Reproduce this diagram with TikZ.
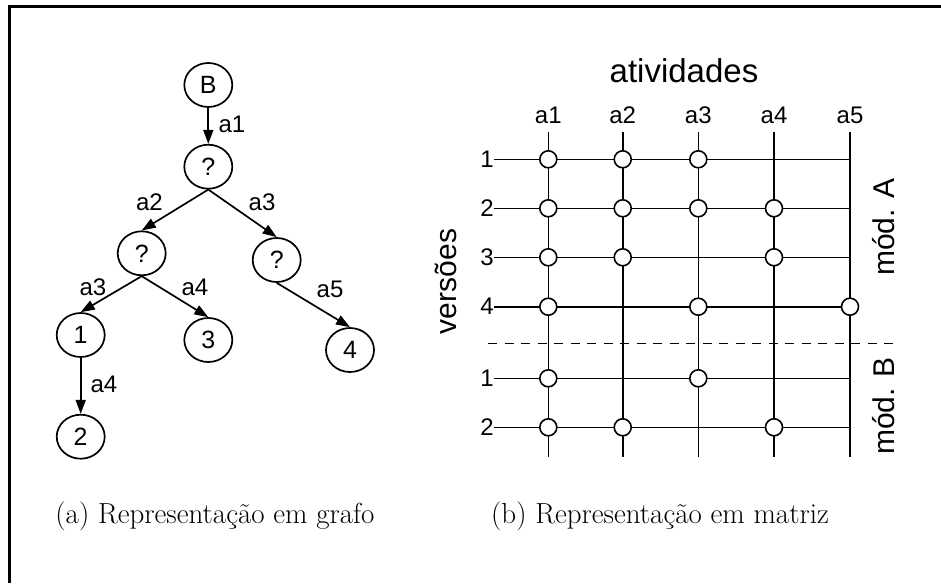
\documentclass[tikz,border=0pt]{standalone}
\usepackage{fontspec}
\newfontfamily\arial{Liberation Sans}
\usetikzlibrary{arrows.meta,shapes.geometric}
\begin{document}
\begin{tikzpicture}[x=1pt,y=-1pt,
  tnode/.style={ellipse,draw,line width=1.7pt,minimum width=48pt,minimum height=44pt,inner sep=0pt,font=\arial\fontsize{25}{29}\selectfont},
  arr/.style={line width=1.7pt,-{Triangle[length=14pt,width=10pt]}},
  elab/.style={anchor=base,inner sep=0pt,font=\arial\fontsize{24}{28}\selectfont},
  mlab/.style={inner sep=0pt,font=\arial\fontsize{24}{28}\selectfont},
  bigA/.style={inner sep=0pt,font=\arial\fontsize{33}{37}\selectfont},
  bigB/.style={inner sep=0pt,font=\arial\fontsize{30}{34}\selectfont},
  dot/.style={circle,draw,fill=white,line width=1.6pt,minimum size=17pt,inner sep=0pt},
  grid/.style={line width=1.6pt},
  captxt/.style={inner sep=0pt,anchor=base,font=\fontsize{29}{33}\selectfont}]
\useasboundingbox (0,0) rectangle (941,583);
% frame
\draw[line width=3pt] (9,583) -- (9,6.5) -- (941,6.5);

% tree
\node[tnode] (B) at (208.3,85) {B};
\node[tnode] (q1) at (208.3,166.7) {?};
\node[tnode] (q2) at (141.7,253.3) {?};
\node[tnode] (q3) at (276.7,260) {?};
\node[tnode] (n1) at (80.7,335) {1};
\node[tnode] (n3) at (208.3,340) {3};
\node[tnode] (n4) at (350,350) {4};
\node[tnode] (n2) at (80.7,436.7) {2};
\draw[arr] (B.south) -- (q1.north);
\draw[arr] (q1.south) -- (q2.north);
\draw[arr] (q1.south) -- (q3.north);
\draw[arr] (q2.south) -- (n1.north);
\draw[arr] (q2.south) -- (n3.north);
\draw[arr] (q3.south) -- (n4.north);
\draw[arr] (n1.south) -- (n2.north);
\node[elab] (l1) at (232,132) {a1};
\node[elab] (l2) at (149.5,210) {a2};
\node[elab] (l3) at (262,210) {a3};
\node[elab] (l4) at (93,295) {a3};
\node[elab] (l5) at (195,295) {a4};
\node[elab] (l6) at (330,297) {a5};
\node[elab] (l7) at (104,392) {a4};

% matrix
\node[bigA,anchor=base] (act) at (684,83) {atividades};
\node[bigB,rotate=90] (ver) at (445.5,281.5) {versões};
\node[bigB,rotate=90] (modA) at (884,227) {mód. A};
\node[bigB,rotate=90] (modB) at (884,406) {mód. B};
\foreach \i/\x in {1/548.3,2/622.7,3/698.3,4/774,5/850}{
  \node[mlab,anchor=base] (c\i) at (\x,123) {a\i};
  \coordinate (ct\i) at (\x,131.7);
  \coordinate (cb\i) at (\x,456.7);
  \draw[grid] (ct\i) -- (cb\i);
}
\foreach \j/\y/\t in {1/159.3/1,2/208.3/2,3/257.3/3,4/306.7/4,5/378.3/1,6/427.3/2}{
  \node[mlab,anchor=east] (r\j) at (494,\y) {\t};
  \coordinate (re\j) at (850,\y);
  \draw[grid] (r\j.east) -- (re\j);
}
\coordinate (dl) at (488,343.3);
\coordinate (dr) at (893,343.3);
\draw[line width=1.6pt,dash pattern=on 9pt off 7.5pt] (dl) -- (dr);
% dots
\foreach \j/\y/\cols in {1/159.3/{548.3,622.7,698.3},2/208.3/{548.3,622.7,698.3,774},3/257.3/{548.3,622.7,774},4/306.7/{548.3,698.3,850},5/378.3/{548.3,698.3},6/427.3/{548.3,622.7,774}}{
  \foreach \x in \cols { \node[dot] at (\x,\y) {}; }
}

% captions
\node[captxt] (capa) at (215,523) {(a) Representação em grafo};
\node[captxt] (capb) at (660,523) {(b) Representação em matriz};
\end{tikzpicture}
\end{document}
